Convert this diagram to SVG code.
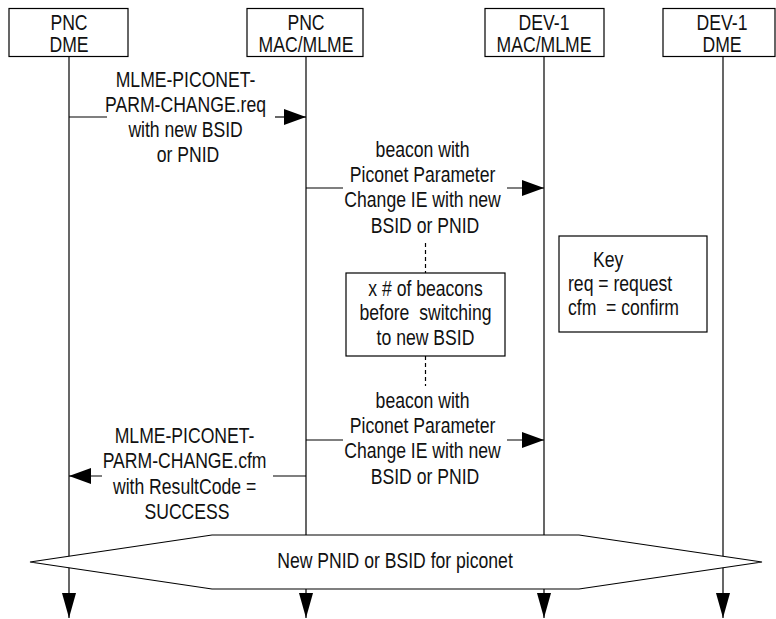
<svg xmlns="http://www.w3.org/2000/svg" width="776" height="619" viewBox="0 0 776 619">
<style>
  .box { fill: #fff; stroke: #000; stroke-width: 1.2; }
  .ln { fill: none; stroke: #000; stroke-width: 1.2; }
  .dash { fill: none; stroke: #000; stroke-width: 1.2; stroke-dasharray: 4 3; }
  text { font-family: "Liberation Sans", Arial, sans-serif; font-size: 22px; fill: #111; }
  .c { text-anchor: middle; }
</style>
<defs>
  <marker id="ah" markerUnits="userSpaceOnUse" markerWidth="22" markerHeight="16" refX="22" refY="8" orient="auto">
    <path d="M0,0 L22,8 L0,16 z" fill="#000"/>
  </marker>
  <marker id="lh" markerUnits="userSpaceOnUse" markerWidth="25" markerHeight="14" refX="25" refY="7" orient="auto">
    <path d="M0,0 L25,7 L0,14 z" fill="#000"/>
  </marker>
</defs>

<g id="lifelines">
  <line class="ln" x1="69" y1="56" x2="69" y2="618" marker-end="url(#lh)"/>
  <line class="ln" x1="306" y1="56" x2="306" y2="618" marker-end="url(#lh)"/>
  <line class="ln" x1="544" y1="56" x2="544" y2="618" marker-end="url(#lh)"/>
  <line class="ln" x1="723" y1="56" x2="723" y2="618" marker-end="url(#lh)"/>
</g>

<g id="pnc-dme">
  <rect class="box" x="9" y="8.5" width="119" height="48"/>
  <text class="c" transform="matrix(0.8 0 0 1 69 0)" x="0" y="30">PNC</text>
  <text class="c" transform="matrix(0.8 0 0 1 69 0)" x="0" y="52">DME</text>
</g>
<g id="pnc-mac">
  <rect class="box" x="247" y="8.5" width="116" height="48"/>
  <text class="c" transform="matrix(0.8 0 0 1 306 0)" x="0" y="30">PNC</text>
  <text class="c" transform="matrix(0.8 0 0 1 306 0)" x="0" y="52">MAC/MLME</text>
</g>
<g id="dev1-mac">
  <rect class="box" x="485" y="8.5" width="119" height="48"/>
  <text class="c" transform="matrix(0.8 0 0 1 544 0)" x="0" y="30">DEV-1</text>
  <text class="c" transform="matrix(0.8 0 0 1 544 0)" x="0" y="52">MAC/MLME</text>
</g>
<g id="dev1-dme">
  <rect class="box" x="663" y="8.5" width="112" height="48"/>
  <text class="c" transform="matrix(0.8 0 0 1 722 0)" x="0" y="30">DEV-1</text>
  <text class="c" transform="matrix(0.8 0 0 1 722 0)" x="0" y="52">DME</text>
</g>

<g id="connectors">
  <!-- req -->
  <line class="ln" x1="69" y1="117" x2="107" y2="117"/>
  <line class="ln" x1="275" y1="117" x2="306" y2="117" marker-end="url(#ah)"/>
  <!-- beacon 1 -->
  <line class="ln" x1="306" y1="188" x2="343" y2="188"/>
  <line class="ln" x1="507" y1="188" x2="544" y2="188" marker-end="url(#ah)"/>
  <!-- dashed -->
  <line class="dash" x1="425.5" y1="243" x2="425.5" y2="273"/>
  <line class="dash" x1="425.5" y1="356" x2="425.5" y2="386"/>
  <!-- beacon 2 -->
  <line class="ln" x1="306" y1="440" x2="343" y2="440"/>
  <line class="ln" x1="507" y1="440" x2="544" y2="440" marker-end="url(#ah)"/>
  <!-- cfm -->
  <line class="ln" x1="306" y1="476" x2="273" y2="476"/>
  <line class="ln" x1="102" y1="476" x2="69" y2="476" marker-end="url(#ah)"/>
</g>

<g id="label-req">
  <text class="c" transform="matrix(0.8 0 0 1 188 0)">
    <tspan x="0" y="87">MLME-PICONET-</tspan>
    <tspan x="0" y="112">PARM-CHANGE.req</tspan>
    <tspan x="0" y="137">with new BSID</tspan>
    <tspan x="0" y="162">or PNID</tspan>
  </text>
</g>
<g id="label-beacon1">
  <text class="c" transform="matrix(0.8 0 0 1 425 0)">
    <tspan x="0" y="157">beacon with</tspan>
    <tspan x="0" y="182">Piconet Parameter</tspan>
    <tspan x="0" y="207.5">Change IE with new</tspan>
    <tspan x="0" y="233">BSID or PNID</tspan>
  </text>
</g>
<g id="wait-box">
  <rect class="box" x="346" y="273" width="159" height="83"/>
  <text class="c" transform="matrix(0.8 0 0 1 425.5 0)" xml:space="preserve"><tspan x="0" y="296">x # of beacons</tspan><tspan x="0" y="320.5">before  switching</tspan><tspan x="0" y="345">to new BSID</tspan></text>
</g>
<g id="key">
  <rect class="box" x="559" y="236" width="148" height="96"/>
  <text transform="matrix(0.8 0 0 1 593 0)" x="0" y="267">Key</text>
  <text transform="matrix(0.8 0 0 1 568 0)" x="0" y="291">req = request</text>
  <text transform="matrix(0.8 0 0 1 568 0)" x="0" y="315" xml:space="preserve">cfm  = confirm</text>
</g>
<g id="label-beacon2">
  <text class="c" transform="matrix(0.8 0 0 1 425 0)">
    <tspan x="0" y="408">beacon with</tspan>
    <tspan x="0" y="433">Piconet Parameter</tspan>
    <tspan x="0" y="458.5">Change IE with new</tspan>
    <tspan x="0" y="484">BSID or PNID</tspan>
  </text>
</g>
<g id="label-cfm">
  <text class="c" transform="matrix(0.8 0 0 1 187 0)">
    <tspan x="0" y="443">MLME-PICONET-</tspan>
    <tspan x="0" y="468">PARM-CHANGE.cfm</tspan>
    <tspan x="0" y="494">with ResultCode =</tspan>
    <tspan x="0" y="519">SUCCESS</tspan>
  </text>
</g>
<g id="new-id">
  <polygon class="box" points="30,562 212,535 579,535 762,562 579,589 212,589"/>
  <text class="c" transform="matrix(0.8 0 0 1 395 0)" x="0" y="568">New PNID or BSID for piconet</text>
</g>
</svg>
